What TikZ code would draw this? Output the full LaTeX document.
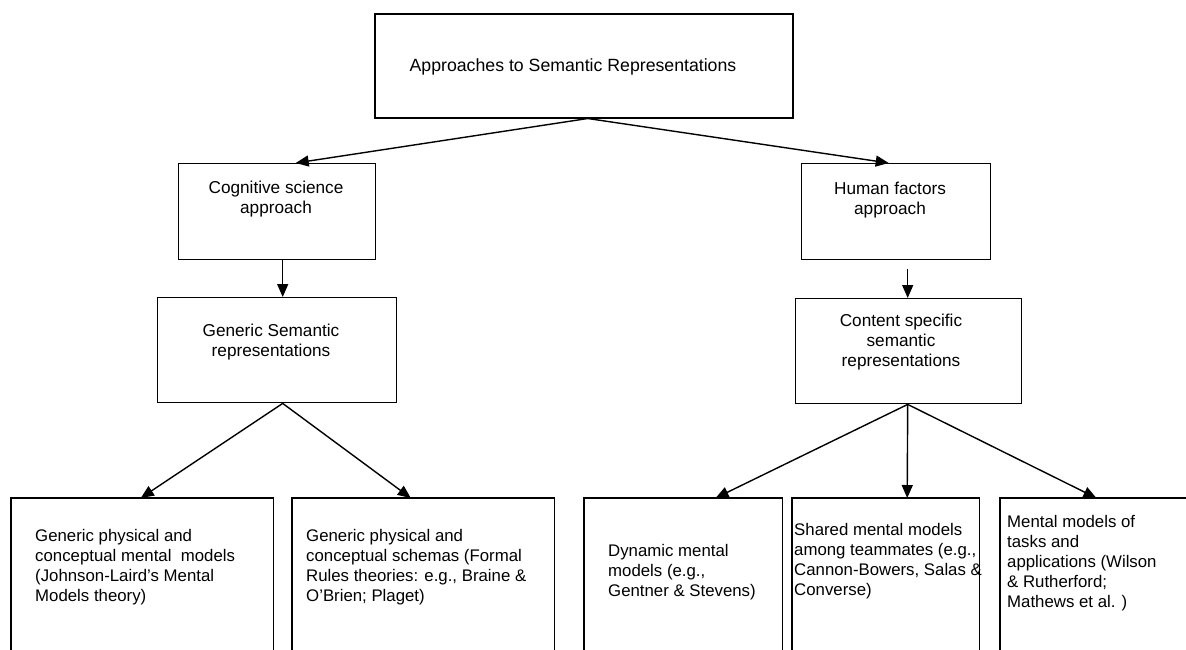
\documentclass[tikz,border=0pt]{standalone}
\usepackage{fontspec}
\setmainfont{Liberation Sans}
\usetikzlibrary{arrows.meta}
\begin{document}
\begin{tikzpicture}[x=1pt,y=-1pt,
  box/.style={draw, line width=1.4pt, inner sep=0pt, anchor=north west},
  frame/.style={inner sep=0pt, anchor=north west},
  head/.style={font=\fontsize{17.2}{20}\selectfont, align=center, inner sep=0pt},
  body/.style={font=\fontsize{16.8}{20}\selectfont, align=left, inner sep=0pt, anchor=north west},
  link/.style={line width=1.4pt, -{Triangle[length=13pt,width=11pt]}},
  side/.style={line width=1.4pt}]
\useasboundingbox (0,0) rectangle (1186,649);

% root
\node[box, line width=1.5pt, minimum width=418pt, minimum height=104pt] (top) at (374,13) {};
\node[head, font=\fontsize{17.7}{21}\selectfont] (topt) at (573,67) {Approaches to Semantic Representations};

% second level
\node[box, minimum width=197pt, minimum height=96pt] (cog) at (178,163) {};
\node[head] (cogt) at (276,199) {Cognitive science\\approach};
\node[box, minimum width=189pt, minimum height=96pt] (hum) at (801,163) {};
\node[head] (humt) at (890,200) {Human factors\\approach};

% third level
\node[box, minimum width=239pt, minimum height=105pt] (gen) at (157,297) {};
\node[head] (gent) at (271,342) {Generic Semantic\\representations};
\node[box, minimum width=226pt, minimum height=105pt] (con) at (795,298) {};
\node[head] (cont) at (901,342) {Content specific\\semantic\\representations};

% leaf frames, open at the bottom
\node[frame, minimum width=262pt, minimum height=154pt] (b1) at (11,498) {};
\node[frame, minimum width=262pt, minimum height=154pt] (b2) at (292,498) {};
\node[frame, minimum width=198pt, minimum height=154pt] (b3) at (584,498) {};
\node[frame, minimum width=187pt, minimum height=154pt] (b4) at (792,498) {};
\node[frame, minimum width=186pt, minimum height=154pt] (b5) at (1000,498) {};
\foreach \b in {b1,b2,b3,b4}
  \draw[side] (\b.south west) -- (\b.north west) -- (\b.north east) -- (\b.south east);
\draw[side] (b5.south west) -- (b5.north west) -- (b5.north east);

\node[body] (b1t) at (35,529.5) {Generic physical and\\conceptual mental\ \ models\\(Johnson-Laird's Mental\\Models theory)};
\node[body] (b2t) at (306,529.5) {Generic physical and\\conceptual schemas (Formal\\Rules theories: e.g., Braine \&\\O'Brien; Plaget)};
\node[body] (b3t) at (608,544.5) {Dynamic mental\\models (e.g.,\\Gentner \& Stevens)};
\node[body] (b4t) at (794,523.5) {Shared mental models\\among teammates (e.g.,\\Cannon-Bowers, Salas \&\\Converse)};
\node[body] (b5t) at (1007,515.5) {Mental models of\\tasks and\\applications (Wilson\\\& Rutherford;\\Mathews et al. )};

% connectors
\draw[link] ([xshift=4pt]top.south) -- ([xshift=18.5pt]cog.north);
\draw[link] ([xshift=4pt]top.south) -- ([xshift=-7.5pt]hum.north);
\draw[link] ([xshift=5.5pt]cog.south) -- ([xshift=5.5pt]gen.north);
\draw[link] ([xshift=11.5pt,yshift=-9pt]hum.south) -- ([xshift=-1pt]con.north);
\draw[link] ([xshift=5.5pt]gen.south) -- ([xshift=-1.4pt]b1.north);
\draw[link] ([xshift=5.5pt]gen.south) -- ([xshift=-12.4pt]b2.north);
\draw[link] ([xshift=-1pt]con.south) -- ([xshift=32.4pt]b3.north);
\draw[link] ([xshift=-1pt]con.south) -- ([xshift=21.5pt]b4.north);
\draw[link] ([xshift=-1pt]con.south) -- ([xshift=96.4pt]b5.north west);
\end{tikzpicture}
\end{document}
